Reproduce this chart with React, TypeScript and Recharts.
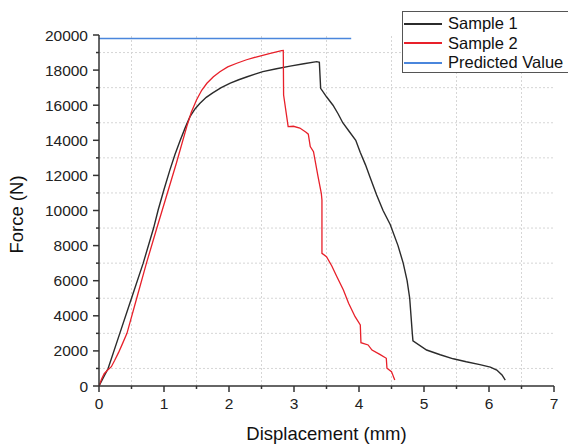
import { Label, Legend, Line, LineChart, ReferenceLine, XAxis, YAxis } from "recharts";

// displacement (mm) / force (N)
const sample1X = [0, 0.14, 0.32, 0.5, 0.68, 0.84, 0.91, 1.0, 1.09, 1.17, 1.25, 1.33, 1.4, 1.48, 1.55, 1.65, 1.75, 1.88, 2.02, 2.15, 2.28, 2.4, 2.52, 2.73, 2.94, 3.15, 3.35, 3.39, 3.41, 3.5, 3.6, 3.68, 3.75, 3.85, 3.95, 4.02, 4.1, 4.17, 4.27, 4.37, 4.48, 4.6, 4.68, 4.74, 4.78, 4.8, 4.82, 4.83, 5.04, 5.25, 5.45, 5.65, 5.86, 6.02, 6.12, 6.2, 6.25];
const sample1Y = [0, 1000, 3000, 5000, 7000, 9000, 10030, 11200, 12300, 13200, 14000, 14750, 15350, 15800, 16100, 16450, 16700, 17000, 17260, 17450, 17620, 17770, 17910, 18080, 18230, 18360, 18480, 18450, 16960, 16480, 16000, 15500, 15000, 14500, 14000, 13300, 12600, 11900, 10900, 10000, 9200, 8000, 7000, 6000, 5000, 4000, 3000, 2570, 2050, 1780, 1550, 1380, 1220, 1080, 910, 630, 340];

const sample2X = [0, 0.04, 0.08, 0.13, 0.19, 0.24, 0.3, 0.36, 0.43, 0.58, 0.73, 0.89, 1.02, 1.19, 1.35, 1.42, 1.5, 1.58, 1.66, 1.76, 1.86, 1.98, 2.12, 2.27, 2.43, 2.62, 2.81, 2.835, 2.84, 2.91, 2.99, 3.09, 3.19, 3.22, 3.25, 3.3, 3.37, 3.42, 3.43, 3.43, 3.5, 3.58, 3.66, 3.76, 3.84, 3.94, 4.02, 4.03, 4.14, 4.2, 4.32, 4.42, 4.43, 4.5, 4.55];
const sample2Y = [0, 400, 700, 900, 1100, 1450, 1900, 2400, 3000, 5000, 7000, 9000, 10600, 12690, 14780, 15600, 16300, 16850, 17250, 17620, 17910, 18180, 18390, 18590, 18760, 18940, 19110, 19120, 16580, 14780, 14800, 14700, 14450, 14350, 13640, 13350, 11930, 10980, 10600, 7560, 7370, 6850, 6230, 5470, 4710, 3950, 3480, 2470, 2340, 2050, 1800, 1580, 1010, 820, 340];

const predictedX = [0, 3.88];
const predictedY = [19800, 19800];

const xTicks = [0, 0.5, 1, 1.5, 2, 2.5, 3, 3.5, 4, 4.5, 5, 5.5, 6, 6.5, 7];
const yTicks = [0, 1000, 2000, 3000, 4000, 5000, 6000, 7000, 8000, 9000, 10000, 11000, 12000, 13000, 14000, 15000, 16000, 17000, 18000, 19000, 20000];
const xGrid = [0.5, 1.5, 2.5, 3.5, 4.5, 5.5, 6.5];
const yGrid = [1000, 3000, 5000, 7000, 9000, 11000, 13000, 15000, 17000, 19000];
const legendOrder = ["Sample 1", "Sample 2", "Predicted Value"];

const toPoints = (xs: number[], ys: number[]) => xs.map((x, i) => ({ x, y: ys[i] }));

const sample1 = toPoints(sample1X, sample1Y);
const sample2 = toPoints(sample2X, sample2Y);
const predicted = toPoints(predictedX, predictedY);

const FONT = "'Liberation Sans', Arial, sans-serif";
const AXIS = "#333";

function XTick(props: any) {
  const { x, y, payload } = props;
  const major = payload.value % 1 === 0;
  return (
    <g>
      <line x1={x} x2={x} y1={y} y2={y + (major ? 6 : 3)} stroke={AXIS} strokeWidth={1.5} />
      {major && (
        <text x={x} y={y + 23} textAnchor="middle" fontSize={15.5} fontFamily={FONT} fill="#222">
          {payload.value}
        </text>
      )}
    </g>
  );
}

function YTick(props: any) {
  const { x, y, payload } = props;
  const major = payload.value % 2000 === 0;
  return (
    <g>
      <line x1={x - (major ? 6 : 3)} x2={x} y1={y} y2={y} stroke={AXIS} strokeWidth={1.5} />
      {major && (
        <text x={x - 11} y={y} dy="0.36em" textAnchor="end" fontSize={15.5} fontFamily={FONT} fill="#222">
          {payload.value}
        </text>
      )}
    </g>
  );
}

function LegendBox({ payload }: any) {
  const items = [...(payload || [])].sort((a: any, b: any) => legendOrder.indexOf(a.value) - legendOrder.indexOf(b.value));
  return (
    <div
      style={{
        width: 180,
        height: 62,
        border: "1.5px solid #555",
        background: "#fff",
        fontFamily: FONT,
        fontSize: 16.5,
        color: "#111",
        paddingTop: 2,
        boxSizing: "border-box",
      }}
    >
      {items.map((p: any) => (
        <div key={p.value} style={{ display: "flex", alignItems: "center", height: 19.5 }}>
          <span style={{ display: "inline-block", width: 38, height: 2, background: p.color, marginLeft: 1, marginRight: 6 }} />
          <span style={{ whiteSpace: "nowrap" }}>{p.value}</span>
        </div>
      ))}
    </div>
  );
}

export default function App() {
  return (
    <div style={{ position: "absolute", left: 0, top: 0, width: 568, height: 444, overflow: "hidden", background: "#fff" }}>
      <LineChart width={568} height={444} margin={{ top: 35, right: 14, left: 0, bottom: 0 }}>
        {xGrid.map((v) => (
          <ReferenceLine key={"gx" + v} x={v} stroke="#d6d6d6" strokeDasharray="2 2" />
        ))}
        {yGrid.map((v) => (
          <ReferenceLine key={"gy" + v} y={v} stroke="#d6d6d6" strokeDasharray="2 2" />
        ))}
        <XAxis
          type="number"
          dataKey="x"
          domain={[0, 7]}
          ticks={xTicks}
          interval={0}
          height={58}
          tickSize={0}
          tickMargin={0}
          tickLine={false}
          tick={<XTick />}
          axisLine={{ stroke: AXIS, strokeWidth: 1.5 }}
          allowDataOverflow
        >
          <Label
            content={(p: any) => {
              const vb = p.viewBox;
              return (
                <text x={vb.x + vb.width / 2} y={vb.y + 54} textAnchor="middle" fontSize={18.5} fontFamily={FONT} fill="#111">
                  Displacement (mm)
                </text>
              );
            }}
          />
        </XAxis>
        <YAxis
          type="number"
          domain={[0, 20000]}
          ticks={yTicks}
          interval={0}
          width={99}
          tickSize={0}
          tickMargin={0}
          tickLine={false}
          tick={<YTick />}
          axisLine={{ stroke: AXIS, strokeWidth: 1.5 }}
          allowDataOverflow
        >
          <Label
            content={(p: any) => {
              const vb = p.viewBox;
              const cx = vb.x + 23;
              const cy = vb.y + vb.height / 2 + 4;
              return (
                <text x={cx} y={cy} transform={`rotate(-90 ${cx} ${cy})`} textAnchor="middle" fontSize={18.5} fontFamily={FONT} fill="#111">
                  Force (N)
                </text>
              );
            }}
          />
        </YAxis>
        <Legend
          layout="vertical"
          align="center"
          verticalAlign="middle"
          wrapperStyle={{ position: "absolute", left: 402, top: 11, width: 180 }}
          content={<LegendBox />}
        />
        <Line data={sample1} dataKey="y" name="Sample 1" type="linear" stroke="#2b2b2b" strokeWidth={1.4} dot={false} isAnimationActive={false} />
        <Line data={sample2} dataKey="y" name="Sample 2" type="linear" stroke="#e8202a" strokeWidth={1.3} dot={false} isAnimationActive={false} />
        <Line data={predicted} dataKey="y" name="Predicted Value" type="linear" stroke="#4a86dc" strokeWidth={1.5} dot={false} isAnimationActive={false} />
      </LineChart>
    </div>
  );
}
